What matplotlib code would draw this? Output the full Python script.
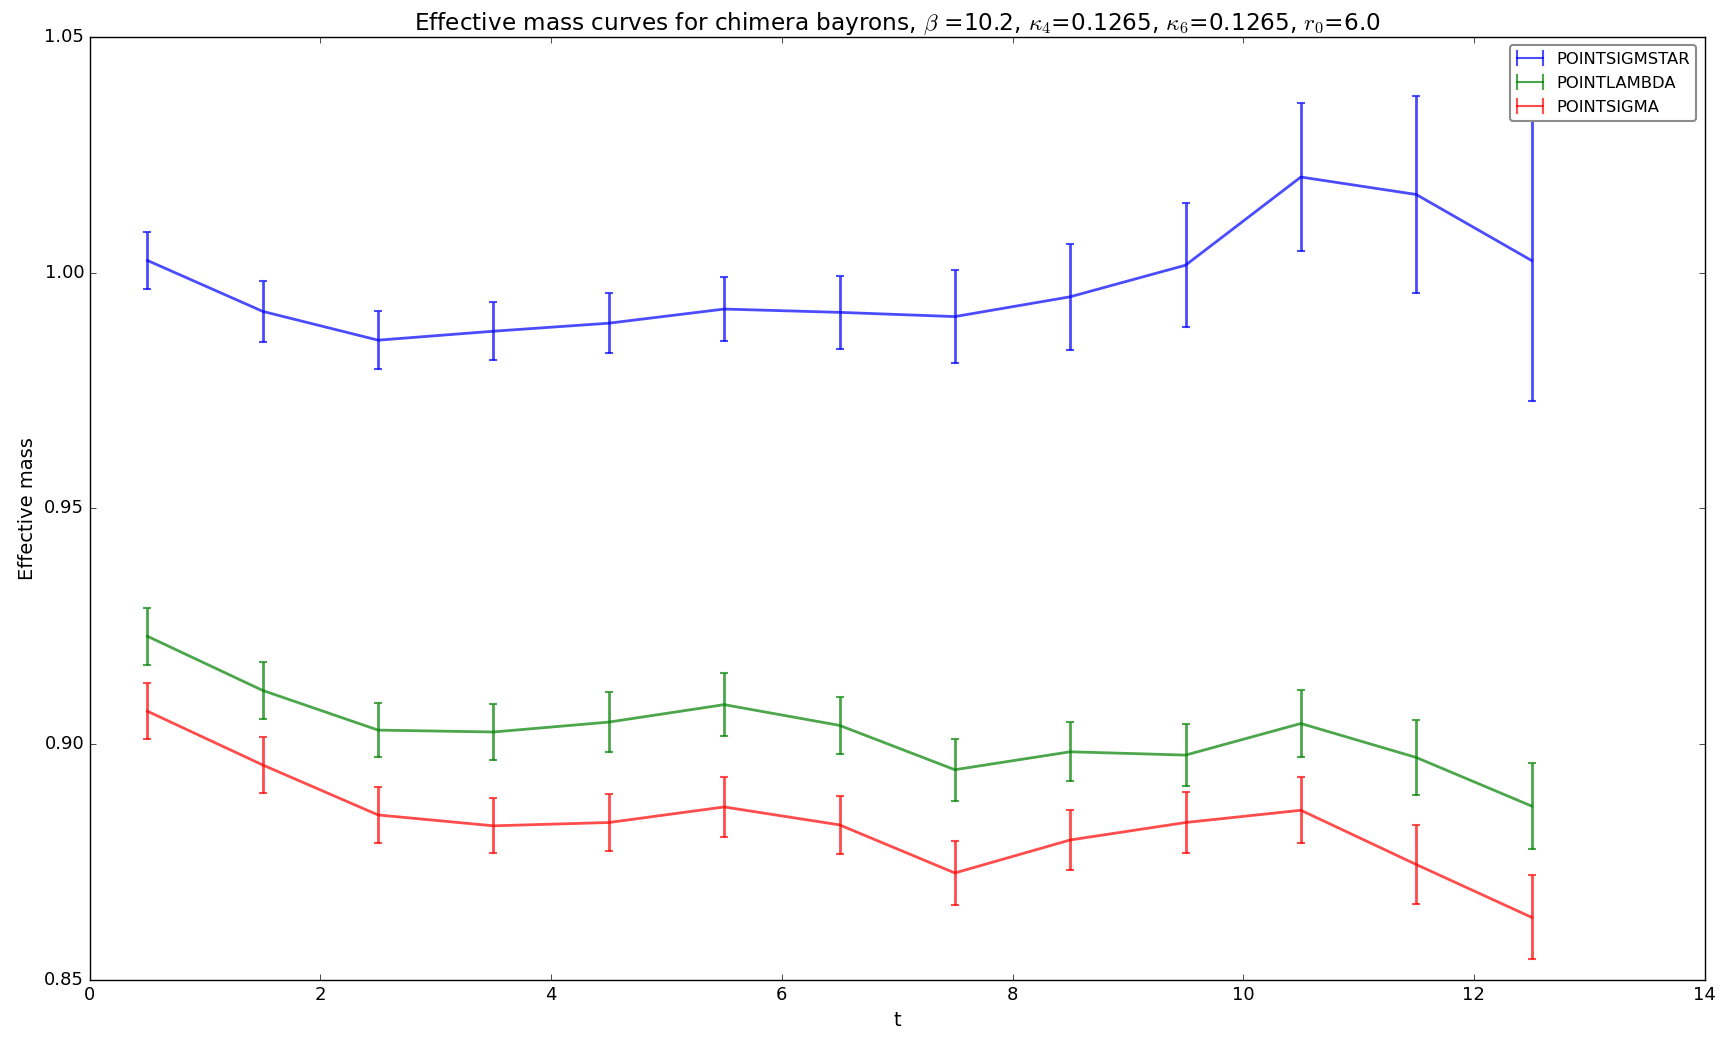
#!/usr/bin/env python3

import numpy as np
import matplotlib
matplotlib.use('Agg')
import matplotlib.pyplot as plt
from matplotlib.lines import Line2D
from matplotlib.legend_handler import HandlerBase

# time slices
t = [0.5, 1.5, 2.5, 3.5, 4.5, 5.5, 6.5, 7.5, 8.5, 9.5, 10.5, 11.5, 12.5]

# effective masses and errors
sigmastar = [1.0026, 0.9918, 0.9857, 0.9876, 0.9893, 0.9923, 0.9916,
             0.9907, 0.9949, 1.0016, 1.0203, 1.0166, 1.0026]
sigmastar_err = [0.0061, 0.0065, 0.0061, 0.0062, 0.0063, 0.0068, 0.0078,
                 0.0098, 0.0112, 0.0131, 0.0156, 0.0208, 0.0297]

lam = [0.9229, 0.9114, 0.9030, 0.9026, 0.9047, 0.9084, 0.9040,
       0.8946, 0.8984, 0.8977, 0.9044, 0.8972, 0.8869]
lam_err = [0.0060, 0.0061, 0.0058, 0.0060, 0.0063, 0.0067, 0.0061,
           0.0066, 0.0063, 0.0065, 0.0072, 0.0080, 0.0091]

sigma = [0.9070, 0.8956, 0.8850, 0.8827, 0.8834, 0.8867, 0.8829,
         0.8727, 0.8797, 0.8834, 0.8860, 0.8745, 0.8633]
sigma_err = [0.0059, 0.0060, 0.0059, 0.0058, 0.0061, 0.0063, 0.0062,
             0.0068, 0.0064, 0.0064, 0.0070, 0.0084, 0.0089]

series = [
    ('POINTSIGMSTAR', sigmastar, sigmastar_err, 'b'),
    ('POINTLAMBDA', lam, lam_err, 'g'),
    ('POINTSIGMA', sigma, sigma_err, 'r'),
]


class HandlerH(HandlerBase):
    # old-style errorbar legend key: horizontal bar with end caps
    def create_artists(self, legend, orig_handle, xdescent, ydescent,
                       width, height, fontsize, trans):
        col = orig_handle.get_color()
        y = height / 2 - ydescent
        x0, x1 = -xdescent, width - xdescent
        h = height * 0.6
        arts = [Line2D([x0, x1], [y, y]),
                Line2D([x0, x0], [y - h, y + h]),
                Line2D([x1, x1], [y - h, y + h])]
        for a in arts:
            a.set_color(col)
            a.set_alpha(0.7)
            a.set_linewidth(1.5)
            a.set_transform(trans)
        return arts


plt.style.use('classic')
plt.rcParams['figure.facecolor'] = 'white'

fig = plt.figure(figsize=(17.27, 10.42), dpi=100)
ax = fig.add_axes([0.052, 0.0595, 0.935, 0.905])

proxies = []
for name, m, err, col in series:
    ax.errorbar(t, m, yerr=err, color=col, alpha=0.7, linewidth=2,
                elinewidth=2, capsize=3, capthick=1.5)
    proxies.append(Line2D([], [], color=col, label=name))

ax.set_xlim(0, 14)
ax.set_ylim(0.85, 1.05)
ax.set_yticks(np.arange(0.85, 1.051, 0.05))
ax.tick_params(labelsize=13)
ax.set_xlabel('t', fontsize=14)
ax.set_ylabel('Effective mass', fontsize=14)
ax.set_title(r'Effective mass curves for chimera bayrons, $\beta$ =10.2, '
             r'$\kappa_4$=0.1265, $\kappa_6$=0.1265, $r_0$=6.0', fontsize=16.7)
leg = ax.legend(handles=proxies, loc='upper right', fontsize=11.8,
                handlelength=1.6, labelspacing=0.55, fancybox=True,
                handler_map={Line2D: HandlerH()})
leg.get_frame().set_edgecolor('0.55')
leg.get_frame().set_linewidth(1.5)

fig.savefig('out.png', dpi=100)
